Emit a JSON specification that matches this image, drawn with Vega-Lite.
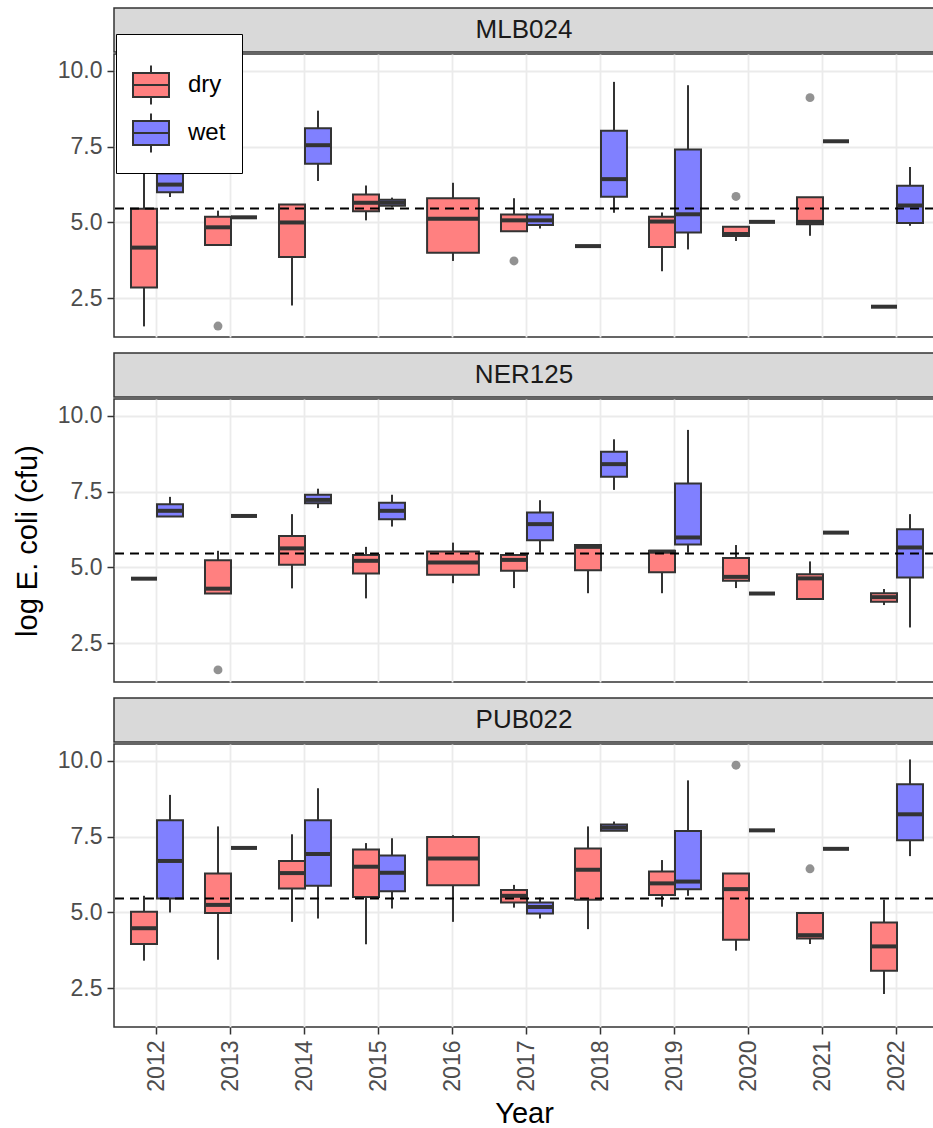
{
  "$schema": "https://vega.github.io/schema/vega-lite/v6.json",
  "background": "white",
  "padding": {"left": 12, "top": 7, "right": 0, "bottom": 0},
  "datasets": {
    "boxes": [
      {"site":"MLB024","Year":"2012","season":"dry","nGroups":2,"lo":1.57,"q1":2.85,"med":4.17,"q3":5.45,"hi":7.2},
      {"site":"MLB024","Year":"2012","season":"wet","nGroups":2,"lo":5.84,"q1":6.0,"med":6.25,"q3":6.62,"hi":7.3},
      {"site":"MLB024","Year":"2013","season":"dry","nGroups":2,"lo":4.26,"q1":4.26,"med":4.84,"q3":5.19,"hi":5.39},
      {"site":"MLB024","Year":"2013","season":"wet","nGroups":2,"lo":5.17,"q1":5.17,"med":5.17,"q3":5.17,"hi":5.17},
      {"site":"MLB024","Year":"2014","season":"dry","nGroups":2,"lo":2.26,"q1":3.86,"med":5.0,"q3":5.59,"hi":5.59},
      {"site":"MLB024","Year":"2014","season":"wet","nGroups":2,"lo":6.37,"q1":6.94,"med":7.55,"q3":8.11,"hi":8.69},
      {"site":"MLB024","Year":"2015","season":"dry","nGroups":2,"lo":5.07,"q1":5.37,"med":5.65,"q3":5.92,"hi":6.22},
      {"site":"MLB024","Year":"2015","season":"wet","nGroups":2,"lo":5.5,"q1":5.55,"med":5.65,"q3":5.75,"hi":5.82},
      {"site":"MLB024","Year":"2016","season":"dry","nGroups":1,"lo":3.73,"q1":4.0,"med":5.12,"q3":5.8,"hi":6.31},
      {"site":"MLB024","Year":"2017","season":"dry","nGroups":2,"lo":4.71,"q1":4.71,"med":5.07,"q3":5.26,"hi":5.8},
      {"site":"MLB024","Year":"2017","season":"wet","nGroups":2,"lo":4.8,"q1":4.92,"med":5.07,"q3":5.26,"hi":5.41},
      {"site":"MLB024","Year":"2018","season":"dry","nGroups":2,"lo":4.22,"q1":4.22,"med":4.22,"q3":4.22,"hi":4.22},
      {"site":"MLB024","Year":"2018","season":"wet","nGroups":2,"lo":5.32,"q1":5.85,"med":6.43,"q3":8.03,"hi":9.64},
      {"site":"MLB024","Year":"2019","season":"dry","nGroups":2,"lo":3.39,"q1":4.19,"med":5.03,"q3":5.19,"hi":5.33},
      {"site":"MLB024","Year":"2019","season":"wet","nGroups":2,"lo":4.11,"q1":4.67,"med":5.27,"q3":7.41,"hi":9.53},
      {"site":"MLB024","Year":"2020","season":"dry","nGroups":2,"lo":4.39,"q1":4.55,"med":4.62,"q3":4.86,"hi":4.86},
      {"site":"MLB024","Year":"2020","season":"wet","nGroups":2,"lo":5.02,"q1":5.02,"med":5.02,"q3":5.02,"hi":5.02},
      {"site":"MLB024","Year":"2021","season":"dry","nGroups":2,"lo":4.56,"q1":4.94,"med":5.02,"q3":5.83,"hi":5.83},
      {"site":"MLB024","Year":"2021","season":"wet","nGroups":2,"lo":7.68,"q1":7.68,"med":7.68,"q3":7.68,"hi":7.68},
      {"site":"MLB024","Year":"2022","season":"dry","nGroups":2,"lo":2.22,"q1":2.22,"med":2.22,"q3":2.22,"hi":2.22},
      {"site":"MLB024","Year":"2022","season":"wet","nGroups":2,"lo":4.89,"q1":4.98,"med":5.56,"q3":6.21,"hi":6.83},

      {"site":"NER125","Year":"2012","season":"dry","nGroups":2,"lo":4.63,"q1":4.63,"med":4.63,"q3":4.63,"hi":4.63},
      {"site":"NER125","Year":"2012","season":"wet","nGroups":2,"lo":6.68,"q1":6.68,"med":6.87,"q3":7.09,"hi":7.33},
      {"site":"NER125","Year":"2013","season":"dry","nGroups":2,"lo":4.14,"q1":4.14,"med":4.3,"q3":5.24,"hi":5.55},
      {"site":"NER125","Year":"2013","season":"wet","nGroups":2,"lo":6.7,"q1":6.7,"med":6.7,"q3":6.7,"hi":6.7},
      {"site":"NER125","Year":"2014","season":"dry","nGroups":2,"lo":4.31,"q1":5.09,"med":5.63,"q3":6.04,"hi":6.76},
      {"site":"NER125","Year":"2014","season":"wet","nGroups":2,"lo":6.96,"q1":7.12,"med":7.23,"q3":7.4,"hi":7.6},
      {"site":"NER125","Year":"2015","season":"dry","nGroups":2,"lo":3.98,"q1":4.8,"med":5.22,"q3":5.41,"hi":5.68},
      {"site":"NER125","Year":"2015","season":"wet","nGroups":2,"lo":6.35,"q1":6.59,"med":6.87,"q3":7.14,"hi":7.4},
      {"site":"NER125","Year":"2016","season":"dry","nGroups":1,"lo":4.48,"q1":4.76,"med":5.16,"q3":5.53,"hi":5.82},
      {"site":"NER125","Year":"2017","season":"dry","nGroups":2,"lo":4.32,"q1":4.89,"med":5.25,"q3":5.41,"hi":5.44},
      {"site":"NER125","Year":"2017","season":"wet","nGroups":2,"lo":5.49,"q1":5.9,"med":6.43,"q3":6.81,"hi":7.22},
      {"site":"NER125","Year":"2018","season":"dry","nGroups":2,"lo":4.15,"q1":4.91,"med":5.68,"q3":5.74,"hi":5.77},
      {"site":"NER125","Year":"2018","season":"wet","nGroups":2,"lo":7.56,"q1":7.99,"med":8.41,"q3":8.82,"hi":9.23},
      {"site":"NER125","Year":"2019","season":"dry","nGroups":2,"lo":4.15,"q1":4.84,"med":5.52,"q3":5.55,"hi":5.55},
      {"site":"NER125","Year":"2019","season":"wet","nGroups":2,"lo":5.49,"q1":5.76,"med":5.99,"q3":7.77,"hi":9.54},
      {"site":"NER125","Year":"2020","season":"dry","nGroups":2,"lo":4.32,"q1":4.56,"med":4.69,"q3":5.31,"hi":5.74},
      {"site":"NER125","Year":"2020","season":"wet","nGroups":2,"lo":4.14,"q1":4.14,"med":4.14,"q3":4.14,"hi":4.14},
      {"site":"NER125","Year":"2021","season":"dry","nGroups":2,"lo":3.96,"q1":3.96,"med":4.64,"q3":4.78,"hi":5.2},
      {"site":"NER125","Year":"2021","season":"wet","nGroups":2,"lo":6.15,"q1":6.15,"med":6.15,"q3":6.15,"hi":6.15},
      {"site":"NER125","Year":"2022","season":"dry","nGroups":2,"lo":3.76,"q1":3.87,"med":4.02,"q3":4.15,"hi":4.29},
      {"site":"NER125","Year":"2022","season":"wet","nGroups":2,"lo":3.02,"q1":4.67,"med":5.66,"q3":6.26,"hi":6.76},

      {"site":"PUB022","Year":"2012","season":"dry","nGroups":2,"lo":3.41,"q1":3.96,"med":4.48,"q3":5.02,"hi":5.55},
      {"site":"PUB022","Year":"2012","season":"wet","nGroups":2,"lo":5.0,"q1":5.46,"med":6.7,"q3":8.04,"hi":8.88},
      {"site":"PUB022","Year":"2013","season":"dry","nGroups":2,"lo":3.44,"q1":4.98,"med":5.25,"q3":6.29,"hi":7.84},
      {"site":"PUB022","Year":"2013","season":"wet","nGroups":2,"lo":7.13,"q1":7.13,"med":7.13,"q3":7.13,"hi":7.13},
      {"site":"PUB022","Year":"2014","season":"dry","nGroups":2,"lo":4.69,"q1":5.79,"med":6.3,"q3":6.7,"hi":7.58},
      {"site":"PUB022","Year":"2014","season":"wet","nGroups":2,"lo":4.8,"q1":5.88,"med":6.93,"q3":8.04,"hi":9.1},
      {"site":"PUB022","Year":"2015","season":"dry","nGroups":2,"lo":3.95,"q1":5.51,"med":6.51,"q3":7.08,"hi":7.29},
      {"site":"PUB022","Year":"2015","season":"wet","nGroups":2,"lo":5.13,"q1":5.7,"med":6.31,"q3":6.88,"hi":7.45},
      {"site":"PUB022","Year":"2016","season":"dry","nGroups":1,"lo":4.69,"q1":5.9,"med":6.78,"q3":7.49,"hi":7.55},
      {"site":"PUB022","Year":"2017","season":"dry","nGroups":2,"lo":5.16,"q1":5.33,"med":5.55,"q3":5.74,"hi":5.91},
      {"site":"PUB022","Year":"2017","season":"wet","nGroups":2,"lo":4.8,"q1":4.97,"med":5.18,"q3":5.33,"hi":5.49},
      {"site":"PUB022","Year":"2018","season":"dry","nGroups":2,"lo":4.45,"q1":5.42,"med":6.41,"q3":7.11,"hi":7.84},
      {"site":"PUB022","Year":"2018","season":"wet","nGroups":2,"lo":7.7,"q1":7.7,"med":7.8,"q3":7.9,"hi":8.0},
      {"site":"PUB022","Year":"2019","season":"dry","nGroups":2,"lo":5.19,"q1":5.58,"med":5.96,"q3":6.35,"hi":6.73},
      {"site":"PUB022","Year":"2019","season":"wet","nGroups":2,"lo":5.55,"q1":5.77,"med":6.02,"q3":7.69,"hi":9.36},
      {"site":"PUB022","Year":"2020","season":"dry","nGroups":2,"lo":3.74,"q1":4.1,"med":5.77,"q3":6.29,"hi":6.29},
      {"site":"PUB022","Year":"2020","season":"wet","nGroups":2,"lo":7.71,"q1":7.71,"med":7.71,"q3":7.71,"hi":7.71},
      {"site":"PUB022","Year":"2021","season":"dry","nGroups":2,"lo":3.96,"q1":4.14,"med":4.25,"q3":4.98,"hi":4.98},
      {"site":"PUB022","Year":"2021","season":"wet","nGroups":2,"lo":7.1,"q1":7.1,"med":7.1,"q3":7.1,"hi":7.1},
      {"site":"PUB022","Year":"2022","season":"dry","nGroups":2,"lo":2.31,"q1":3.08,"med":3.88,"q3":4.67,"hi":5.42},
      {"site":"PUB022","Year":"2022","season":"wet","nGroups":2,"lo":6.86,"q1":7.38,"med":8.24,"q3":9.23,"hi":10.05}
    ],
    "outliers": [
      {"site":"MLB024","Year":"2013","season":"dry","value":1.58},
      {"site":"MLB024","Year":"2017","season":"dry","value":3.73},
      {"site":"MLB024","Year":"2020","season":"dry","value":5.86},
      {"site":"MLB024","Year":"2021","season":"dry","value":9.12},
      {"site":"NER125","Year":"2013","season":"dry","value":1.62},
      {"site":"PUB022","Year":"2020","season":"dry","value":9.86},
      {"site":"PUB022","Year":"2021","season":"dry","value":6.44}
    ],
    "limit": [{"threshold": 5.46}]
  },
  "vconcat": [
    {
      "spacing": 0,
      "vconcat": [
        {
          "width": 820, "height": 44,
          "view": {"fill": "#D9D9D9", "stroke": "#333333", "strokeWidth": 1.5},
          "data": {"values": [{"site": "MLB024"}]},
          "mark": {"type": "text", "fontSize": 26, "color": "#1A1A1A", "align": "center", "baseline": "middle"},
          "encoding": {"text": {"field": "site", "type": "nominal"}}
        },
        {
          "width": 820, "height": 283,
          "layer": [
            {
              "data": {"name": "boxes"},
              "transform": [{"filter": "datum.site === 'MLB024' && datum.nGroups === 2"}],
              "mark": {"type": "rule", "color": "#333333", "strokeWidth": 2},
              "encoding": {
                "x": {"field": "Year", "type": "nominal",
                      "scale": {"domain": ["2012","2013","2014","2015","2016","2017","2018","2019","2020","2021","2022"], "paddingInner": 0, "paddingOuter": 0.0405, "align": 1},
                      "axis": {"title": null, "labels": false, "ticks": false, "domain": false, "grid": true, "bandPosition": 0.5}},
                "xOffset": {"field": "season", "type": "nominal", "scale": {"domain": ["dry","wet"], "paddingInner": 0, "paddingOuter": 0.423}},
                "y": {"field": "lo", "type": "quantitative",
                      "scale": {"domain": [1.22, 10.56], "nice": false, "zero": false},
                      "axis": {"title": null, "values": [2.5, 5, 7.5, 10], "format": ".1f"}},
                "y2": {"field": "hi"}
              }
            },
            {
              "data": {"name": "boxes"},
              "transform": [{"filter": "datum.site === 'MLB024' && datum.nGroups === 2"}],
              "mark": {"type": "bar", "stroke": "#333333", "strokeWidth": 2},
              "encoding": {
                "x": {"field": "Year", "type": "nominal"},
                "xOffset": {"field": "season", "type": "nominal"},
                "y": {"field": "q1", "type": "quantitative"},
                "y2": {"field": "q3"},
                "fill": {"field": "season", "type": "nominal", "scale": {"domain": ["dry","wet"], "range": ["#FF8080","#8080FF"]}, "legend": {"title": " "}}
              }
            },
            {
              "data": {"name": "boxes"},
              "transform": [{"filter": "datum.site === 'MLB024' && datum.nGroups === 2"}],
              "mark": {"type": "tick", "color": "#333333", "size": 26, "thickness": 4, "opacity": 1},
              "encoding": {
                "x": {"field": "Year", "type": "nominal"},
                "xOffset": {"field": "season", "type": "nominal"},
                "y": {"field": "med", "type": "quantitative"}
              }
            },
            {
              "data": {"name": "boxes"},
              "transform": [{"filter": "datum.site === 'MLB024' && datum.nGroups === 1"}],
              "mark": {"type": "rule", "color": "#333333", "strokeWidth": 2},
              "encoding": {
                "x": {"field": "Year", "type": "nominal"},
                "y": {"field": "lo", "type": "quantitative"},
                "y2": {"field": "hi"}
              }
            },
            {
              "data": {"name": "boxes"},
              "transform": [{"filter": "datum.site === 'MLB024' && datum.nGroups === 1"}],
              "mark": {"type": "bar", "stroke": "#333333", "strokeWidth": 2, "width": {"band": 0.7}},
              "encoding": {
                "x": {"field": "Year", "type": "nominal"},
                "y": {"field": "q1", "type": "quantitative"},
                "y2": {"field": "q3"},
                "fill": {"field": "season", "type": "nominal", "legend": {"title": " "}}
              }
            },
            {
              "data": {"name": "boxes"},
              "transform": [{"filter": "datum.site === 'MLB024' && datum.nGroups === 1"}],
              "mark": {"type": "tick", "color": "#333333", "size": 52, "thickness": 4, "opacity": 1},
              "encoding": {
                "x": {"field": "Year", "type": "nominal"},
                "y": {"field": "med", "type": "quantitative"}
              }
            },
            {
              "data": {"name": "outliers"},
              "transform": [{"filter": "datum.site === 'MLB024'"}],
              "mark": {"type": "point", "filled": true, "color": "#7F7F7F", "opacity": 0.85, "size": 80},
              "encoding": {
                "x": {"field": "Year", "type": "nominal"},
                "xOffset": {"field": "season", "type": "nominal"},
                "y": {"field": "value", "type": "quantitative"}
              }
            },
            {
              "data": {"name": "limit"},
              "mark": {"type": "rule", "color": "black", "strokeWidth": 2, "strokeDash": [9, 6]},
              "encoding": {"y": {"field": "threshold", "type": "quantitative"}}
            }
          ]
        }
      ]
    },
    {
      "spacing": 0,
      "vconcat": [
        {
          "width": 820, "height": 44,
          "view": {"fill": "#D9D9D9", "stroke": "#333333", "strokeWidth": 1.5},
          "data": {"values": [{"site": "NER125"}]},
          "mark": {"type": "text", "fontSize": 26, "color": "#1A1A1A", "align": "center", "baseline": "middle"},
          "encoding": {"text": {"field": "site", "type": "nominal"}}
        },
        {
          "width": 820, "height": 283,
          "layer": [
            {
              "data": {"name": "boxes"},
              "transform": [{"filter": "datum.site === 'NER125' && datum.nGroups === 2"}],
              "mark": {"type": "rule", "color": "#333333", "strokeWidth": 2},
              "encoding": {
                "x": {"field": "Year", "type": "nominal",
                      "scale": {"domain": ["2012","2013","2014","2015","2016","2017","2018","2019","2020","2021","2022"], "paddingInner": 0, "paddingOuter": 0.0405, "align": 1},
                      "axis": {"title": null, "labels": false, "ticks": false, "domain": false, "grid": true, "bandPosition": 0.5}},
                "xOffset": {"field": "season", "type": "nominal", "scale": {"domain": ["dry","wet"], "paddingInner": 0, "paddingOuter": 0.423}},
                "y": {"field": "lo", "type": "quantitative",
                      "scale": {"domain": [1.22, 10.56], "nice": false, "zero": false},
                      "axis": {"title": "log E. coli (cfu)", "values": [2.5, 5, 7.5, 10], "format": ".1f"}},
                "y2": {"field": "hi"}
              }
            },
            {
              "data": {"name": "boxes"},
              "transform": [{"filter": "datum.site === 'NER125' && datum.nGroups === 2"}],
              "mark": {"type": "bar", "stroke": "#333333", "strokeWidth": 2},
              "encoding": {
                "x": {"field": "Year", "type": "nominal"},
                "xOffset": {"field": "season", "type": "nominal"},
                "y": {"field": "q1", "type": "quantitative"},
                "y2": {"field": "q3"},
                "fill": {"field": "season", "type": "nominal", "legend": {"title": " "}}
              }
            },
            {
              "data": {"name": "boxes"},
              "transform": [{"filter": "datum.site === 'NER125' && datum.nGroups === 2"}],
              "mark": {"type": "tick", "color": "#333333", "size": 26, "thickness": 4, "opacity": 1},
              "encoding": {
                "x": {"field": "Year", "type": "nominal"},
                "xOffset": {"field": "season", "type": "nominal"},
                "y": {"field": "med", "type": "quantitative"}
              }
            },
            {
              "data": {"name": "boxes"},
              "transform": [{"filter": "datum.site === 'NER125' && datum.nGroups === 1"}],
              "mark": {"type": "rule", "color": "#333333", "strokeWidth": 2},
              "encoding": {
                "x": {"field": "Year", "type": "nominal"},
                "y": {"field": "lo", "type": "quantitative"},
                "y2": {"field": "hi"}
              }
            },
            {
              "data": {"name": "boxes"},
              "transform": [{"filter": "datum.site === 'NER125' && datum.nGroups === 1"}],
              "mark": {"type": "bar", "stroke": "#333333", "strokeWidth": 2, "width": {"band": 0.7}},
              "encoding": {
                "x": {"field": "Year", "type": "nominal"},
                "y": {"field": "q1", "type": "quantitative"},
                "y2": {"field": "q3"},
                "fill": {"field": "season", "type": "nominal", "legend": {"title": " "}}
              }
            },
            {
              "data": {"name": "boxes"},
              "transform": [{"filter": "datum.site === 'NER125' && datum.nGroups === 1"}],
              "mark": {"type": "tick", "color": "#333333", "size": 52, "thickness": 4, "opacity": 1},
              "encoding": {
                "x": {"field": "Year", "type": "nominal"},
                "y": {"field": "med", "type": "quantitative"}
              }
            },
            {
              "data": {"name": "outliers"},
              "transform": [{"filter": "datum.site === 'NER125'"}],
              "mark": {"type": "point", "filled": true, "color": "#7F7F7F", "opacity": 0.85, "size": 80},
              "encoding": {
                "x": {"field": "Year", "type": "nominal"},
                "xOffset": {"field": "season", "type": "nominal"},
                "y": {"field": "value", "type": "quantitative"}
              }
            },
            {
              "data": {"name": "limit"},
              "mark": {"type": "rule", "color": "black", "strokeWidth": 2, "strokeDash": [9, 6]},
              "encoding": {"y": {"field": "threshold", "type": "quantitative"}}
            }
          ]
        }
      ]
    },
    {
      "spacing": 0,
      "vconcat": [
        {
          "width": 820, "height": 44,
          "view": {"fill": "#D9D9D9", "stroke": "#333333", "strokeWidth": 1.5},
          "data": {"values": [{"site": "PUB022"}]},
          "mark": {"type": "text", "fontSize": 26, "color": "#1A1A1A", "align": "center", "baseline": "middle"},
          "encoding": {"text": {"field": "site", "type": "nominal"}}
        },
        {
          "width": 820, "height": 283,
          "layer": [
            {
              "data": {"name": "boxes"},
              "transform": [{"filter": "datum.site === 'PUB022' && datum.nGroups === 2"}],
              "mark": {"type": "rule", "color": "#333333", "strokeWidth": 2},
              "encoding": {
                "x": {"field": "Year", "type": "nominal",
                      "scale": {"domain": ["2012","2013","2014","2015","2016","2017","2018","2019","2020","2021","2022"], "paddingInner": 0, "paddingOuter": 0.0405, "align": 1},
                      "axis": {"title": "Year", "labelAngle": -90, "grid": true, "domain": false, "bandPosition": 0.5, "labelPadding": 6, "titlePadding": 8}},
                "xOffset": {"field": "season", "type": "nominal", "scale": {"domain": ["dry","wet"], "paddingInner": 0, "paddingOuter": 0.423}},
                "y": {"field": "lo", "type": "quantitative",
                      "scale": {"domain": [1.22, 10.56], "nice": false, "zero": false},
                      "axis": {"title": null, "values": [2.5, 5, 7.5, 10], "format": ".1f"}},
                "y2": {"field": "hi"}
              }
            },
            {
              "data": {"name": "boxes"},
              "transform": [{"filter": "datum.site === 'PUB022' && datum.nGroups === 2"}],
              "mark": {"type": "bar", "stroke": "#333333", "strokeWidth": 2},
              "encoding": {
                "x": {"field": "Year", "type": "nominal"},
                "xOffset": {"field": "season", "type": "nominal"},
                "y": {"field": "q1", "type": "quantitative"},
                "y2": {"field": "q3"},
                "fill": {"field": "season", "type": "nominal", "legend": {"title": " "}}
              }
            },
            {
              "data": {"name": "boxes"},
              "transform": [{"filter": "datum.site === 'PUB022' && datum.nGroups === 2"}],
              "mark": {"type": "tick", "color": "#333333", "size": 26, "thickness": 4, "opacity": 1},
              "encoding": {
                "x": {"field": "Year", "type": "nominal"},
                "xOffset": {"field": "season", "type": "nominal"},
                "y": {"field": "med", "type": "quantitative"}
              }
            },
            {
              "data": {"name": "boxes"},
              "transform": [{"filter": "datum.site === 'PUB022' && datum.nGroups === 1"}],
              "mark": {"type": "rule", "color": "#333333", "strokeWidth": 2},
              "encoding": {
                "x": {"field": "Year", "type": "nominal"},
                "y": {"field": "lo", "type": "quantitative"},
                "y2": {"field": "hi"}
              }
            },
            {
              "data": {"name": "boxes"},
              "transform": [{"filter": "datum.site === 'PUB022' && datum.nGroups === 1"}],
              "mark": {"type": "bar", "stroke": "#333333", "strokeWidth": 2, "width": {"band": 0.7}},
              "encoding": {
                "x": {"field": "Year", "type": "nominal"},
                "y": {"field": "q1", "type": "quantitative"},
                "y2": {"field": "q3"},
                "fill": {"field": "season", "type": "nominal", "legend": {"title": " "}}
              }
            },
            {
              "data": {"name": "boxes"},
              "transform": [{"filter": "datum.site === 'PUB022' && datum.nGroups === 1"}],
              "mark": {"type": "tick", "color": "#333333", "size": 52, "thickness": 4, "opacity": 1},
              "encoding": {
                "x": {"field": "Year", "type": "nominal"},
                "y": {"field": "med", "type": "quantitative"}
              }
            },
            {
              "data": {"name": "outliers"},
              "transform": [{"filter": "datum.site === 'PUB022'"}],
              "mark": {"type": "point", "filled": true, "color": "#7F7F7F", "opacity": 0.85, "size": 80},
              "encoding": {
                "x": {"field": "Year", "type": "nominal"},
                "xOffset": {"field": "season", "type": "nominal"},
                "y": {"field": "value", "type": "quantitative"}
              }
            },
            {
              "data": {"name": "limit"},
              "mark": {"type": "rule", "color": "black", "strokeWidth": 2, "strokeDash": [9, 6]},
              "encoding": {"y": {"field": "threshold", "type": "quantitative"}}
            }
          ]
        }
      ]
    }
  ],
  "spacing": 14,
  "config": {
    "font": "Liberation Sans",
    "view": {"stroke": "#333333", "strokeWidth": 1.5},
    "axis": {
      "gridColor": "#EBEBEB", "gridWidth": 1.8,
      "labelFontSize": 23, "labelColor": "#4D4D4D", "labelFont": "Liberation Sans",
      "tickColor": "#333333", "tickSize": 7, "tickWidth": 1.5,
      "titleFontSize": 29, "titleFontWeight": "normal", "titleColor": "black", "titleFont": "Liberation Sans"
    },
    "axisY": {"domain": false, "labelPadding": 5, "titlePadding": 15},
    "legend": {
      "orient": "none", "legendX": 2, "legendY": 26,
      "fillColor": "white", "strokeColor": "black", "padding": 16,
      "titleFontSize": 12, "titlePadding": 4,
      "symbolType": "M-1,-0.667H1V0.667H-1ZM-1,0H1M0,-0.667V-1.08M0,0.667V1.08",
      "symbolSize": 1296, "symbolStrokeColor": "#333333", "symbolStrokeWidth": 2, "symbolOpacity": 1,
      "labelFontSize": 24, "labelColor": "black", "labelOffset": 18, "rowPadding": 0
    }
  }
}
